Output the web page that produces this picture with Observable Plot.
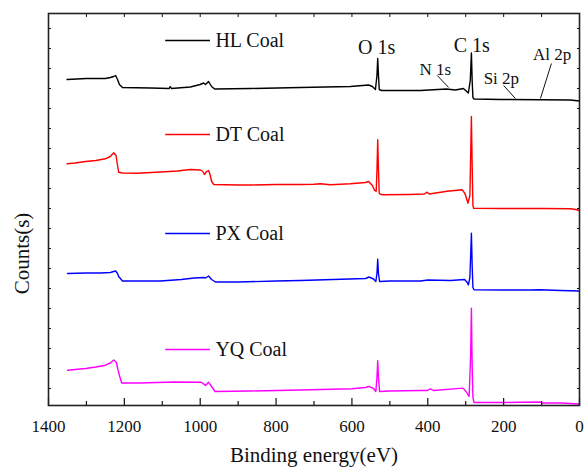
<!DOCTYPE html>
<html><head><meta charset="utf-8">
<script src="https://cdn.jsdelivr.net/npm/d3@7"></script>
<script src="https://cdn.jsdelivr.net/npm/@observablehq/plot@0.6"></script>
<style>body{margin:0;background:#fff} svg{display:block}</style>
</head><body><div id="chart"></div>
<script>
// ---- data (binding energy eV, counts in arbitrary offset units) ----
const seriesNames = ["HL Coal", "DT Coal", "PX Coal", "YQ Coal"];
const seriesColors = ["#000000", "#ff0000", "#0000ff", "#ff00ff"];

const hlCoal = [[1351,326],[1300,327],[1250,327],[1237,328],[1228,329],[1223,330],[1218,326],[1213,321],[1205,318],[1131,317.5],[1082,317],[1079,319],[1076,317],[1026,318.5],[1000,321],[991,322.5],[986,321],[978,324],[970,319],[962,316.5],[867,317],[736,318],[604,319],[556,320.5],[546,319],[538,316],[534,330],[532,347],[530,330],[528,316],[522,315],[419,315],[351,316.5],[327,315.5],[306,317],[293,312.5],[288,325],[285,352.5],[283,325],[281,308],[278,306.5],[208,306],[103,305.7],[24,305.5],[0,304.5]];

const dtCoal = [[1351,241.7],[1330,242.5],[1302,244],[1275,245],[1250,246.7],[1237,249],[1228,252.7],[1222,250],[1218,240],[1215,233.3],[1205,232.5],[1166,232.3],[1105,233.5],[1060,234.5],[1026,236],[1000,235.5],[993,234],[989,231],[983,234],[978,235],[974,231],[970,224],[964,221],[900,220.5],[867,220.5],[800,221],[736,221],[700,221.2],[683,221.8],[657,220.8],[604,221.7],[564,223],[556,224],[546,220],[540,215],[536,214.3],[534,235],[532,265.7],[530,235],[528,212],[526,211.5],[519,210.7],[450,211],[409,211.5],[402,213.3],[396,211.5],[349,214.3],[309,215.7],[302,212],[294,202.3],[289,210],[287,250],[285,289],[283,240],[281,200],[279,197.3],[200,197],[156,197],[100,197],[24,196.7],[10,196],[0,195]];

const pxCoal = [[1350,132],[1300,132.5],[1263,132.5],[1237,133],[1228,134],[1223,134.5],[1218,132],[1215,129],[1205,124.5],[1160,124.5],[1105,124.5],[1050,126],[1016,127.5],[990,128],[986,127.5],[978,129.5],[970,126],[960,123.5],[900,123.5],[800,124.5],[736,125],[650,126],[564,127],[555,128.5],[543,126.5],[537,124],[534,132],[532,146.3],[530,132],[527,124],[500,124.5],[419,124.5],[400,125.5],[340,125],[303,126],[296,123],[293,120.6],[289,128],[287,150],[285,172.3],[283,140],[281,118],[278,115.8],[200,115.5],[129,115.5],[105,115.8],[50,115],[0,114.5]];

const yqCoal = [[1350,35.2],[1330,36],[1302,37],[1275,38.5],[1250,40.3],[1237,42.5],[1228,45.5],[1221,43],[1217,36],[1213,30],[1207,22.5],[1157,22.5],[1070,23.5],[997,23.2],[986,20.1],[978,23.2],[970,19],[961,14],[867,14.5],[736,15.5],[601,16.7],[564,18],[555,19.1],[543,17],[537,14],[534,28],[532,44.8],[530,28],[527,14],[500,14.5],[419,15],[401,15],[393,16.7],[385,15],[307,17.4],[299,14],[291,9],[287,50],[285,97.2],[283,40],[281,8],[278,3],[200,3],[156,3.2],[103,3.5],[100,2.5],[50,2.5],[0,1.5]];

const xTickLabels = [1400, 1200, 1000, 800, 600, 400, 200, 0];

// peak annotations: label, anchor energy, anchor counts
const peakLabels = ["O 1s", "C 1s", "N 1s", "Si 2p", "Al 2p"];
const peakLabelEnergy = [535, 284, 380, 206, 72];
const peakLabelCounts = [352, 354, 331, 322, 346];
const peakLabelSize = [20, 20, 17, 17, 17];
// leader lines for small peaks (from label to spectrum)
const leaderFromEnergy = [375, 200, 74];
const leaderFromCounts = [330, 320, 342];
const leaderToEnergy = [345, 169, 103];
const leaderToCounts = [318, 307, 307];

// legend layout
const legendCounts = [365, 271, 172, 56];

// ---- build ----
const allSeries = [hlCoal, dtCoal, pxCoal, yqCoal];
const rows = allSeries.flatMap((pts, i) => pts.map(([e, c]) => ({series: seriesNames[i], energy: e, counts: c})));
const legendRows = seriesNames.map((name, i) => ({name, y: legendCounts[i]}));
const annot = peakLabels.map((t, i) => ({t, x: peakLabelEnergy[i], y: peakLabelCounts[i], s: peakLabelSize[i]}));
const leaders = leaderFromEnergy.map((_, i) => ({x1: leaderFromEnergy[i], y1: leaderFromCounts[i], x2: leaderToEnergy[i], y2: leaderToCounts[i]}));

const font = "'Liberation Serif', 'Times New Roman', serif";
const blank = () => "";

const chart = Plot.plot({
  width: 584, height: 467,
  marginLeft: 48, marginRight: 5, marginTop: 13, marginBottom: 62,
  style: {fontFamily: font, fontSize: "17px", color: "#111", background: "#fff"},
  x: {domain: [1400, 0]},
  y: {domain: [0, 392]},
  color: {domain: seriesNames, range: seriesColors},
  marks: [
    Plot.line(rows, {x: "energy", y: "counts", z: "series", stroke: "series", strokeWidth: 1.4, curve: "linear"}),
    Plot.ruleY(legendRows, {y: "y", x1: 1091, x2: 973, stroke: "name", strokeWidth: 1.4}),
    Plot.text(legendRows, {x: 960, y: "y", text: "name", textAnchor: "start", fontSize: 20, fill: "#111"}),
    Plot.text(annot, {x: "x", y: "y", text: "t", fontSize: "s", lineAnchor: "bottom", fill: "#111"}),
    Plot.link(leaders, {x1: "x1", y1: "y1", x2: "x2", y2: "y2", stroke: "#111", strokeWidth: 1}),
    Plot.axisX({anchor: "bottom", ticks: d3.range(0, 1401, 200), tickSize: -7, tickFormat: blank, label: null, strokeWidth: 1.2}),
    Plot.axisX({anchor: "bottom", ticks: d3.range(100, 1400, 200), tickSize: -4, tickFormat: blank, label: null, strokeWidth: 1.2}),
    Plot.axisX({anchor: "top", ticks: d3.range(0, 1401, 100), tickSize: -3, tickFormat: blank, label: null}),
    Plot.axisY({anchor: "left", ticks: d3.range(17, 392, 20), tickSize: -3, tickFormat: blank, label: null}),
    Plot.axisY({anchor: "right", ticks: d3.range(17, 392, 20), tickSize: -3, tickFormat: blank, label: null}),
    Plot.axisX({anchor: "bottom", ticks: xTickLabels, tickSize: 0, tickPadding: 14, fontSize: 17, label: null, tickFormat: d => String(d)}),
    Plot.text(["Binding energy(eV)"], {frameAnchor: "bottom", dy: 56, lineAnchor: "bottom", fontSize: 21, fill: "#111"}),
    Plot.text(["Counts(s)"], {x: () => 1468, y: () => 152, rotate: -90, fontSize: 21, fill: "#111"}),
    Plot.frame({stroke: "#222", strokeWidth: 1.6})
  ]
});
document.getElementById("chart").append(chart);
</script>
</body></html>
